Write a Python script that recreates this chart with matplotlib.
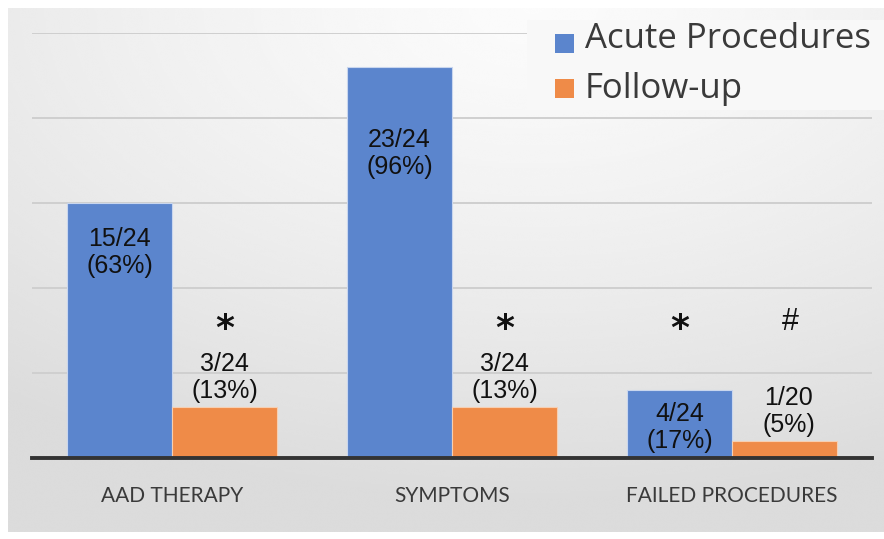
import numpy as np
import matplotlib
matplotlib.use("Agg")
import matplotlib.pyplot as plt
from matplotlib.patches import Rectangle

# Data
categories = ["AAD THERAPY", "SYMPTOMS", "FAILED PROCEDURES"]
series_names = ["Acute Procedures", "Follow-up"]
acute_counts = [15, 23, 4]
followup_counts = [3, 3, 1]
acute_labels = ["15/24\n(63%)", "23/24\n(96%)", "4/24\n(17%)"]
followup_labels = ["3/24\n(13%)", "3/24\n(13%)", "1/20\n(5%)"]
acute_marks = ["", "", "*"]
followup_marks = ["*", "*", "#"]

# Vertical centres (data units) of the value labels
acute_label_y = [12.1, 17.9, 1.8]
followup_label_y = [4.75, 4.75, 2.75]
mark_y = 7.6

blue = "#5b85cd"
orange = "#ef8b48"
text_dark = "#3a3a3a"

W, H = 884, 539
fig = plt.figure(figsize=(W / 100, H / 100), dpi=100)
fig.patch.set_facecolor("white")

# Soft grey panel behind the chart
bg = fig.add_axes([8 / W, 7 / H, 876 / W, 524 / H], zorder=-1)
gx, gy = np.meshgrid(np.linspace(0, 1, 400), np.linspace(0, 1, 300))
d = np.sqrt(((gx - 0.6) / 1.0) ** 2 + ((gy - 1.0) / 0.95) ** 2)
shade = 0.985 - 0.125 * np.clip(d, 0, 1) ** 1.3
bg.imshow(shade, cmap="gray", vmin=0, vmax=1, origin="lower",
          aspect="auto", extent=[0, 1, 0, 1], interpolation="bicubic")
bg.set_axis_off()

ax = fig.add_axes([32 / W, (H - 458) / H, 840 / W, 425 / H])
ax.set_facecolor("none")

x = np.arange(len(categories))
bw = 0.375
ax.bar(x - bw / 2, acute_counts, bw, color=blue, edgecolor="#c9d6ee",
       linewidth=0.8, zorder=3)
ax.bar(x + bw / 2, followup_counts, bw, color=orange, edgecolor="#f6cfb2",
       linewidth=0.8, zorder=3)

ax.set_xlim(-0.5, 2.5)
ax.set_ylim(0, 25)
ax.set_yticks([5, 10, 15, 20, 25])
ax.yaxis.grid(True, color="#cfcfcf", linewidth=1.4, zorder=1)
ax.set_axisbelow(True)
ax.tick_params(axis="y", left=False, labelleft=False)
ax.tick_params(axis="x", bottom=False, pad=17)
for s in ["top", "right", "left"]:
    ax.spines[s].set_visible(False)
ax.spines["bottom"].set_color("#333333")
ax.spines["bottom"].set_linewidth(2.8)
ax.spines["bottom"].set_zorder(4)

ax.set_xticks(x)
ax.set_xticklabels(categories, fontfamily="Lato", fontsize=15, color=text_dark)

label_font = dict(fontfamily="Liberation Sans", fontsize=18, color="#111111",
                  ha="center", va="center", linespacing=1.15, zorder=5)
for i in range(len(categories)):
    ax.text(x[i] - bw / 2, acute_label_y[i], acute_labels[i], **label_font)
    ax.text(x[i] + bw / 2 + (0.015 if i == 2 else 0), followup_label_y[i],
            followup_labels[i], **label_font)
    for xpos, m in ((x[i] - bw / 2, acute_marks[i]), (x[i] + bw / 2, followup_marks[i])):
        if m == "*":
            ax.text(xpos, mark_y, m, fontfamily="DejaVu Sans", fontweight="bold",
                    fontsize=26, ha="center", va="center", color="#111111", zorder=5)
        elif m:
            ax.text(xpos + 0.02, mark_y + 0.4, m, fontfamily="Liberation Sans",
                    fontsize=22, ha="center", va="center", color="#111111", zorder=5)

# Legend panel
fig.patches.append(Rectangle((527 / W, (H - 110) / H), 357 / W, 90 / H,
                             transform=fig.transFigure, facecolor="#f8f8f8",
                             edgecolor="none", zorder=1))
for k, (name, col) in enumerate(zip(series_names, [blue, orange])):
    ytop = 34 + 45 * k
    fig.patches.append(Rectangle((555 / W, (H - ytop - 19) / H), 19 / W, 19 / H,
                                 transform=fig.transFigure, facecolor=col,
                                 edgecolor="none", zorder=2))
    fig.text(585 / W, (H - 48 - 50 * k) / H, name, fontfamily="Open Sans",
             fontsize=25, color=text_dark, ha="left", va="baseline", zorder=3)

fig.savefig("out.png", dpi=100)
